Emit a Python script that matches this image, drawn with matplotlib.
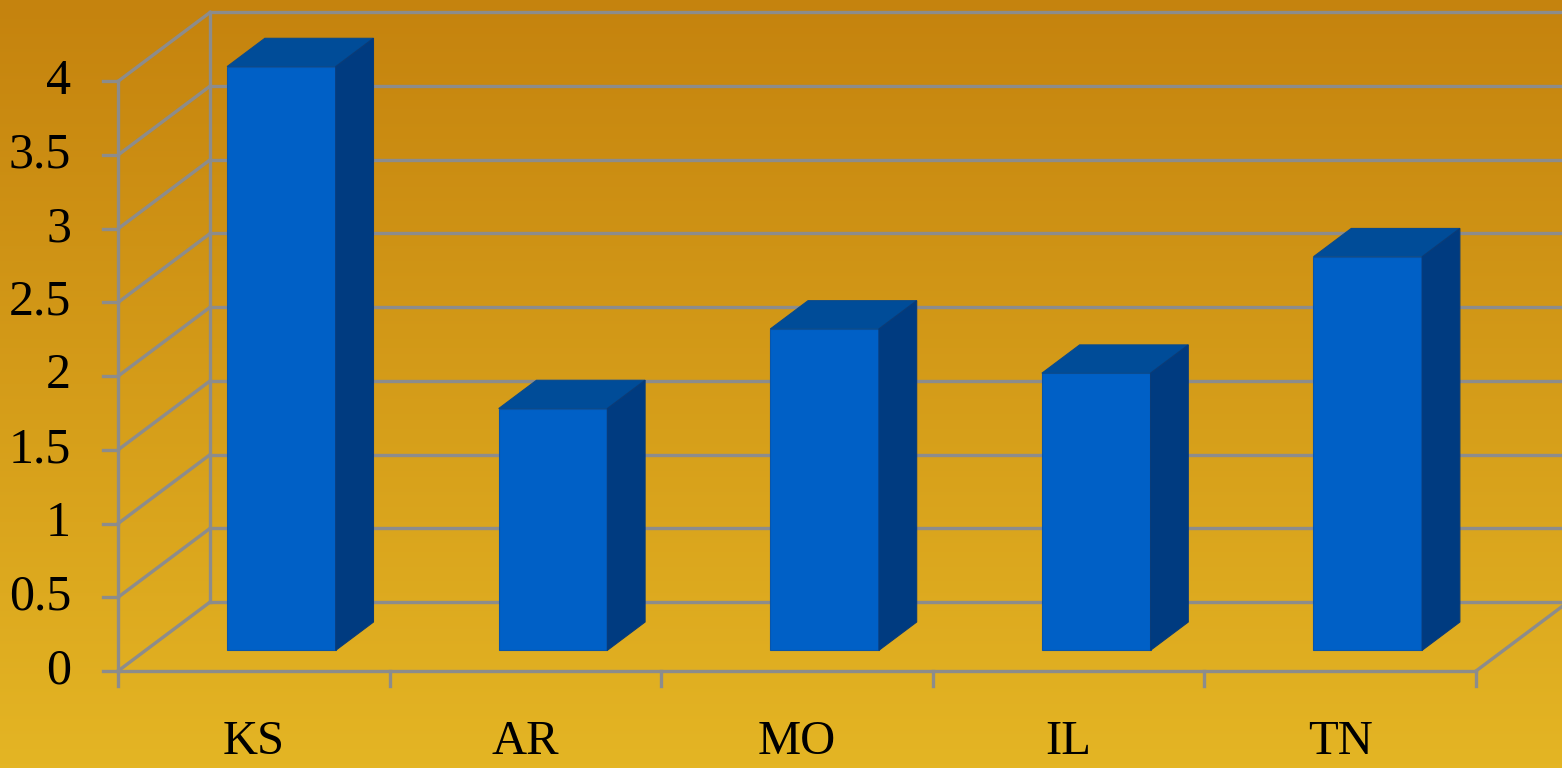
import numpy as np
import matplotlib.pyplot as plt
from matplotlib.patches import Polygon
from matplotlib.colors import LinearSegmentedColormap

# data
states = ['KS', 'AR', 'MO', 'IL', 'TN']
values = [3.96, 1.64, 2.18, 1.88, 2.67]
y_ticks = [0, 0.5, 1, 1.5, 2, 2.5, 3, 3.5, 4]
y_labels = ['0', '0.5', '1', '1.5', '2', '2.5', '3', '3.5', '4']

# oblique "3d" look: depth d in [0, 1] shifts right and up
DX = 0.339
DV = 0.468
d_front, d_back = 0.30, 0.71
bar_w = 0.40

def proj(x, v, d):
    return x + d * DX, v + d * DV

grid_col = '#8c8c8c'
front_col = '#0060c6'
top_col = '#004c98'
side_col = '#003b80'

fig = plt.figure(figsize=(15.62, 7.68), dpi=100)
ax = fig.add_axes([0, 0, 1, 1])
ax.set_xlim(-0.9345, 4.8167)
ax.set_ylim(-0.658, 4.552)
ax.axis('off')

# background gradient, darker orange on top
cmap = LinearSegmentedColormap.from_list('bg', ['#c5830e', '#e4b524'])
grad = np.linspace(0, 1, 256).reshape(-1, 1)
ax.imshow(grad, cmap=cmap, aspect='auto', extent=[0, 1, 0, 1],
          transform=ax.transAxes, zorder=0)

x0, x1 = -0.5, len(states) - 0.5
lw = 2.4

# back wall and left wall grid
for t, lab in zip(y_ticks, y_labels):
    bx0, bv0 = proj(x0, t, 1)
    bx1, bv1 = proj(x1, t, 1)
    ax.plot([bx0, bx1], [bv0, bv1], color=grid_col, lw=lw, zorder=1)
    fx, fv = proj(x0, t, 0)
    ax.plot([fx, bx0], [fv, bv0], color=grid_col, lw=lw, zorder=1)
    ax.plot([fx - 0.055, fx], [fv, fv], color=grid_col, lw=lw, zorder=1)
    ax.text(fx - 0.173, fv, lab, ha='right', va='center',
            fontsize=36, family='Liberation Serif', color='black')

# wall verticals
ax.plot([x0, x0], [0, 4], color=grid_col, lw=lw, zorder=1)
bx, bv = proj(x0, 0, 1)
ax.plot([bx, bx], [bv, bv + 4], color=grid_col, lw=lw, zorder=1)

# floor front edge and right edge
ax.plot([x0, x1], [0, 0], color=grid_col, lw=lw, zorder=1)
rx, rv = proj(x1, 0, 1)
ax.plot([x1, rx], [0, rv], color=grid_col, lw=lw, zorder=1)

# category ticks and labels
for k in range(len(states) + 1):
    ax.plot([x0 + k, x0 + k], [0, -0.1], color=grid_col, lw=lw, zorder=1)
for i, s in enumerate(states):
    ax.text(i, -0.48, s, ha='center', va='center', fontsize=35,
            family='Liberation Serif', color='black')

# bars
for i, val in enumerate(values):
    xl, xr = i - bar_w / 2, i + bar_w / 2
    fl = proj(xl, 0, d_front)
    ax.bar(fl[0] + bar_w / 2, val, bar_w, bottom=fl[1], color=front_col,
           edgecolor='#0a55a8', linewidth=0.8, zorder=3)
    top = [proj(xl, val, d_front), proj(xr, val, d_front),
           proj(xr, val, d_back), proj(xl, val, d_back)]
    side = [proj(xr, 0, d_front), proj(xr, val, d_front),
            proj(xr, val, d_back), proj(xr, 0, d_back)]
    ax.add_patch(Polygon(top, closed=True, facecolor=top_col,
                         edgecolor='#0a4a8c', linewidth=0.8, zorder=3))
    ax.add_patch(Polygon(side, closed=True, facecolor=side_col,
                         edgecolor='#0a3b78', linewidth=0.8, zorder=3))

plt.savefig('out.png', dpi=100)
